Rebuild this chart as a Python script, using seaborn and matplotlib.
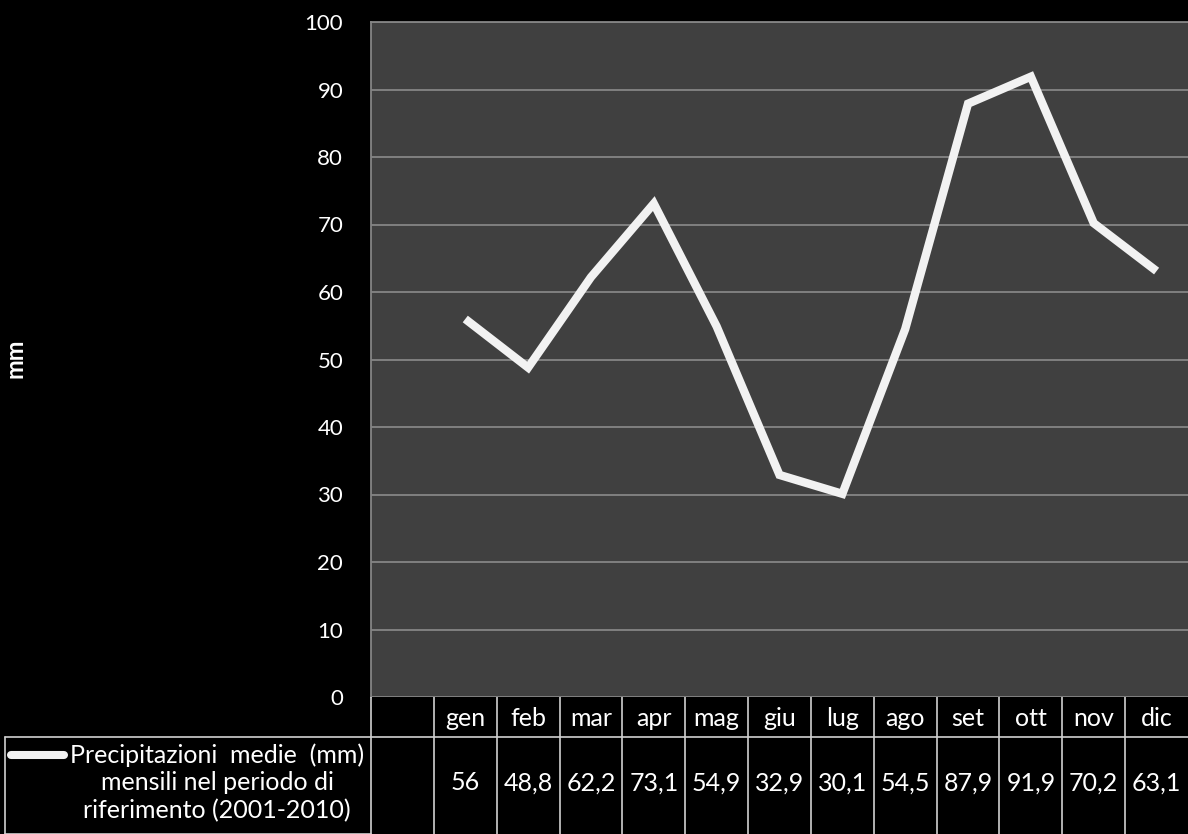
import matplotlib
matplotlib.use("Agg")
import matplotlib.pyplot as plt
import seaborn as sns
import pandas as pd

months = ["gen", "feb", "mar", "apr", "mag", "giu", "lug", "ago", "set", "ott", "nov", "dic"]
values = [56, 48.8, 62.2, 73.1, 54.9, 32.9, 30.1, 54.5, 87.9, 91.9, 70.2, 63.1]
value_labels = ["56", "48,8", "62,2", "73,1", "54,9", "32,9", "30,1", "54,5", "87,9", "91,9", "70,2", "63,1"]
yticks = [0, 10, 20, 30, 40, 50, 60, 70, 80, 90, 100]
series_label = ["Precipitazioni  medie  (mm)", "mensili nel periodo di", "riferimento (2001-2010)"]
ylabel = "mm"

sns.set_theme(style="dark")
plt.rcParams["font.family"] = ["Lato", "DejaVu Sans"]

W, H = 1188, 834
fig = plt.figure(figsize=(W / 100, H / 100), dpi=100, facecolor="black")

left_px, right_px, top_px, bot_px = 371, 1188, 22, 697
ax = fig.add_axes([left_px / W, (H - bot_px) / H, (right_px - left_px) / W, (bot_px - top_px) / H])
ax.set_facecolor("#404040")

df = pd.DataFrame({"pos": list(range(1, len(months) + 1)), "val": values, "mese": months})
sns.lineplot(data=df, x="pos", y="val", ax=ax, color="#f2f2f2", linewidth=6.0,
             solid_joinstyle="miter", solid_capstyle="butt")

ax.set_xlim(-0.5, len(months) + 0.5)
ax.set_ylim(0, 100)
ax.set_yticks(yticks)
ax.set_yticklabels([str(v) for v in yticks], color="white", fontsize=16)
ax.set_xticks([])
ax.set_xlabel("")
ax.set_ylabel("")
ax.tick_params(axis="y", length=0, pad=20)
ax.grid(axis="y", color="#858585", linewidth=1.3)
ax.grid(axis="x", visible=False)
for name, sp in ax.spines.items():
    sp.set_visible(name in ("left", "top"))
    sp.set_color("#858585")
    sp.set_linewidth(1.3)

fig.text(15 / W, 1 - 358 / H, ylabel, rotation=90, color="white", fontsize=17,
         fontweight="bold", ha="center", va="center")

# Table area aligned with the category scale of the main axes
ppu = (right_px - left_px) / (len(months) + 1)
xl = -0.5 - left_px / ppu
tab_h = H - bot_px
axt = fig.add_axes([0, 0, 1, tab_h / H])
axt.set_xlim(xl, len(months) + 0.5)
axt.set_ylim(0, tab_h)
axt.axis("off")
axt.patch.set_alpha(0)

lc = "#d0d0d0"
lw = 1.2
hdr_bottom = H - 737
edges = [k - 0.5 for k in range(0, len(months) + 2)]
for e in edges[:-1]:
    axt.plot([e, e], [0, tab_h], color=lc, lw=lw, solid_capstyle="butt")
axt.plot([xl + 5 / ppu, len(months) + 0.5], [hdr_bottom, hdr_bottom], color=lc, lw=lw)
axt.plot([xl + 5 / ppu, xl + 5 / ppu], [0, hdr_bottom], color=lc, lw=lw)
axt.plot([xl + 5 / ppu, -0.5], [0.5, 0.5], color=lc, lw=lw)

for i, (m, v) in enumerate(zip(months, value_labels)):
    x = i + 1
    axt.text(x, H - 718, m, color="white", fontsize=18, ha="center", va="center")
    axt.text(x, H - 783, v, color="white", fontsize=18, ha="center", va="center")

label_cx = xl + 217 / ppu
for j, line in enumerate(series_label):
    axt.text(label_cx, H - (755 + 28 * j), line, color="white", fontsize=18,
             ha="center", va="center")
axt.plot([xl + 11 / ppu, xl + 64 / ppu], [H - 755, H - 755], color="#f2f2f2", lw=5.8,
         solid_capstyle="round")

fig.savefig("out.png", dpi=100, facecolor="black")
